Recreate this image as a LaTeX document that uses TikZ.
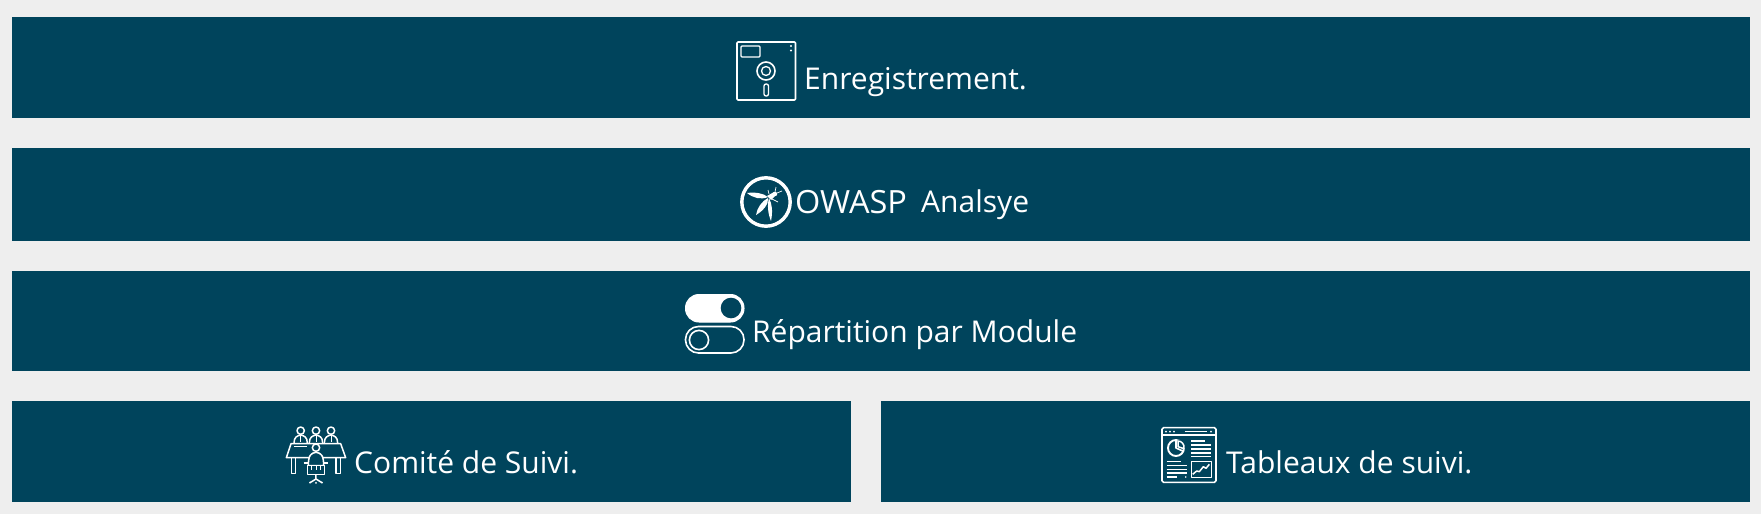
\documentclass[tikz,border=0pt]{standalone}
\usepackage{fontspec}
\setmainfont{Open Sans}
\definecolor{barcol}{HTML}{00445C}
\definecolor{bgcol}{HTML}{EEEEEE}
\tikzset{
  x=1pt,y=-1pt,
  bar/.style={fill=barcol,draw=none,inner sep=0pt,outer sep=0pt,anchor=north west},
  label/.style={text=white,inner sep=0pt,anchor=base west,font=\fontsize{30}{32}\selectfont},
  ic/.style={draw=white,line width=1.6pt,fill=none,line join=round},
  ict/.style={draw=white,line width=1.5pt,fill=none,line join=round},
  zc/.style={x=0.3333pt,y=-0.3333pt}
}
\begin{document}
\begin{tikzpicture}
\useasboundingbox (0,0) rectangle (1761,514);
\fill[bgcol] (0,0) rectangle (1761,514);
\node[bar,minimum width=1738pt,minimum height=101pt] (b1) at (12,17) {};
\node[bar,minimum width=1738pt,minimum height=93pt] (b2) at (12,148) {};
\node[bar,minimum width=1738pt,minimum height=100pt] (b3) at (12,271) {};
\node[bar,minimum width=839pt,minimum height=101pt] (b4) at (12,401) {};
\node[bar,minimum width=869pt,minimum height=101pt] (b5) at (881,401) {};
\node[label] (t1) at (804,89.5) {Enregistrement.};
\node[label] (t2) at (921,212.5) {Analsye};
\node[label] (t3) at (752,342) {Répartition par Module};
\node[label] (t4) at (354,473.5) {Comité de Suivi.};
\node[label] (t5) at (1226,473.5) {Tableaux de suivi.};
% floppy
\draw[ic,rounded corners=1pt] (737,42) rectangle (795.5,100);
\draw[ic,line width=1.3pt,rounded corners=1pt] (741,46) rectangle (760,57);
\fill[white] (791,46) circle (1.1) (791,50.5) circle (1.1);
\draw[ic] (766,71) circle (9);
\draw[ic,line width=1.3pt] (766,71) circle (4.5);
\draw[ic,line width=1.3pt,rounded corners=2pt] (764,84) rectangle (768.5,96);
% owasp
\draw[draw=white,line width=3.4pt] (766,202) circle (24.2);
\fill[white] (747,193) .. controls (755,192) and (763,193) .. (768,197) .. controls (761,200) and (753,198) .. (747,193) -- cycle;
\fill[white] (756,215) .. controls (757,208) and (762,201) .. (768,198) .. controls (769,204) and (763,211) .. (756,215) -- cycle;
\fill[white] (769,198) .. controls (772,204) and (773,211) .. (771,221) .. controls (768,214) and (767,205) .. (769,198) -- cycle;
\fill[white] (767,196) -- (774,192) -- (776,195) -- (771,200) -- cycle;
\fill[white] (775,194) circle (2.2);
\draw[white,line width=.7pt] (775,192) -- (776,187) (777,193) -- (782,191) (769,194) -- (768,190) (772,199) -- (778,202);
\node[text=white,inner sep=0pt,anchor=base west,xscale=1.015,font=\fontsize{32}{34}\selectfont] (ow) at (795,213) {OWASP};
% toggles
\draw[fill=white,draw=white,line width=1pt,rounded corners=13.5pt] (685.5,294.5) rectangle (744,322);
\fill[barcol] (731,308) circle (10.3);
\draw[ic,rounded corners=13pt] (685.5,326.5) rectangle (744,353);
\draw[ic] (699,340) circle (9.6);
% committee icon
\begin{scope}[shift={(275,415)},zc]
 \foreach \px in {77,123,168}{
  \draw[ict] (\px,47) circle (11);
  \draw[ict] (\px-20,84) .. controls (\px-20,66) and (\px-10,62) .. (\px,60) .. controls (\px+10,62) and (\px+20,66) .. (\px+20,84);
  \draw[ict,line width=.8pt] (\px,64) -- (\px,82);
 }
 \draw[ict] (48,86) -- (197,86) -- (212,128) -- (34,128) -- cycle;
 \draw[ict,line width=.7pt] (58,94) -- (96,94);
 \draw[ict] (50,128) -- (50,175) -- (62,175) -- (62,128);
 \draw[ict] (183,128) -- (183,175) -- (196,175) -- (196,128);
 \draw[ict,fill=barcol] (123,98) circle (11);
 \draw[ict,fill=barcol] (100,152) .. controls (100,120) and (108,114) .. (123,112) .. controls (138,114) and (146,120) .. (146,152) -- cycle;
 \draw[ict,fill=barcol] (98,152) rectangle (148,178);
 \draw[ict] (86,144) -- (98,144) (148,144) -- (160,144);
 \draw[ict,line width=.8pt] (110,152) -- (110,166) (123,152) -- (123,166) (136,152) -- (136,166);
 \draw[ict] (123,178) -- (123,192) (105,203) -- (123,192) -- (141,203);
 \fill[white] (105,203) circle (3) (141,203) circle (3) (123,204) circle (3);
\end{scope}
% dashboard icon
\begin{scope}[shift={(1150,415)},zc]
 \draw[ic,rounded corners=1.5pt] (36,38) rectangle (198,202);
 \draw[ic] (36,60) -- (198,60);
 \fill[white] (48,50) circle (3) (60,50) circle (3) (72,50) circle (3) (183,50) circle (3);
 \draw[ic] (104,50) -- (172,50);
 \draw[ic,line width=1.9pt] (78,99) circle[radius=8pt];
 \draw[ic] (78,77) -- (78,99) -- (98,108);
 \fill[barcol] (83,74) -- (108,74) -- (108,104) -- (83,97) -- cycle;
 \draw[ic,line width=1.5pt] (84,78) .. controls (95,78) and (104,88) .. (102,101) -- (84,95) -- cycle;
 \foreach \yy/\xa in {78/166,90/184,102/184,114/184,124/184}{\draw[ic] (123,\yy) -- (\xa,\yy);}
 \foreach \yy/\xa in {140/93,151/110,163/110,174/110,186/82}{\draw[ic] (50,\yy) -- (\xa,\yy);}
 \fill[white] (107,186) circle (2.5);
 \draw[ic] (124,139) rectangle (184,187);
 \draw[ict] (128,178) -- (140,168) -- (148,170) -- (160,155) -- (168,160) -- (178,148);
\end{scope}
\end{tikzpicture}
\end{document}
